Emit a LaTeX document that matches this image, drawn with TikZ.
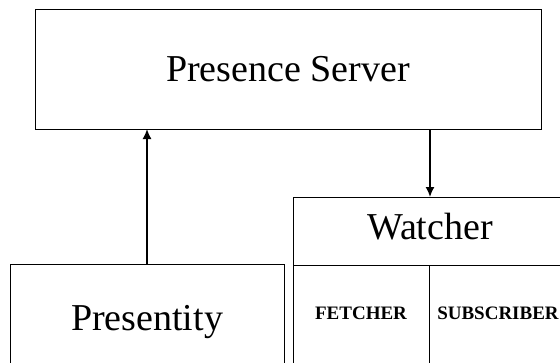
\documentclass[tikz,border=0pt]{standalone}
\usepackage{fontspec}
\setmainfont{Liberation Serif}
\usetikzlibrary{positioning,arrows.meta}

\begin{document}
\begin{tikzpicture}[x=1pt,y=-1pt,
   box/.style={rectangle,draw,line width=1pt,outer sep=0pt,inner sep=0pt,
    font=\fontsize{38}{42}\selectfont},
   cell/.style={rectangle,draw,line width=0.8pt,outer sep=0pt,inner sep=0pt,
    minimum height=130pt,text height=13pt,text depth=34pt,
    font=\fontsize{19}{22}\selectfont\bfseries},
   link/.style={line width=1.6pt,-{Latex[length=10pt,width=9pt]}}
    ]
  \useasboundingbox (0,0) rectangle (560,362);

  % -- top
  \node[box,minimum width=506pt,minimum height=120pt] at (288,69) (server) {Presence Server};

  % -- bottom left
  \node[box,minimum width=274pt,minimum height=116pt] at (147,322) (presentity) {Presentity};

  % -- bottom right
  \node[box,minimum width=274pt,minimum height=68pt,text depth=10pt] at (430,231) (watcher) {Watcher};
  \node[cell,minimum width=136pt,below right=0pt and 0pt of watcher.south west] (fetcher) {FETCHER};
  \node[cell,minimum width=138pt,below right=0pt and 0pt of fetcher.north east] (subscriber) {SUBSCRIBER};

  % -- arrows
  \draw[link] (presentity) -- (presentity |- server.south);
  \draw[link] (server.south -| watcher) -- (watcher);

\end{tikzpicture}
\end{document}
